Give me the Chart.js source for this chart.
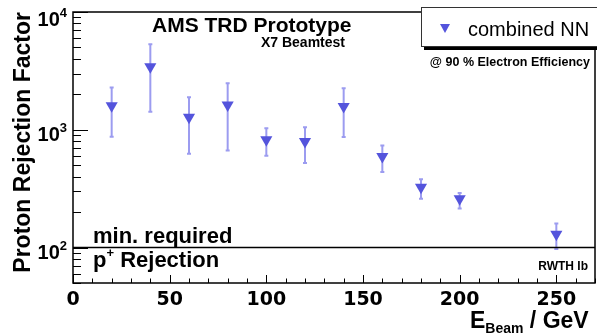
<!DOCTYPE html>
<html>
<head>
<meta charset="utf-8">
<script src="https://cdn.jsdelivr.net/npm/chart.js@4"></script>
<style>
  body { margin: 0; background: #fff; }
  canvas { display: block; }
</style>
</head>
<body>
<canvas id="rej" width="597" height="335"></canvas>
<script>
// beam energies (GeV) and proton rejection factor with error bounds
const energies = [20, 40, 60, 80, 100, 120, 140, 160, 180, 200, 250];
const rejection = [1600, 3430, 1280, 1620, 823, 796, 1575, 594, 325, 260, 130];
const rejHigh = [2280, 5330, 1890, 2480, 1030, 1050, 2250, 737, 380, 290, 160];
const rejLow = [873, 1420, 627, 668, 603, 523, 867, 439, 260, 215, 97];
const xTicks = [0, 50, 100, 150, 200, 250];
const yDecades = [2, 3, 4];
const minRequired = 100;

const markerColor = '#5454dc';
const barColor = '#9c9cf0';
const boldFont = '"Liberation Sans", Arial, sans-serif';

function supText(ctx, base, sup, xRight, y, size) {
  ctx.font = 'bold ' + size + 'px ' + boldFont;
  const wb = ctx.measureText(base).width;
  ctx.font = 'bold ' + Math.round(size * 0.65) + 'px ' + boldFont;
  const ws = ctx.measureText(sup).width;
  ctx.textAlign = 'left';
  ctx.fillText(sup, xRight - ws, y - size * 0.45);
  ctx.font = 'bold ' + size + 'px ' + boldFont;
  ctx.fillText(base, xRight - ws - wb, y);
}

const rootStyle = {
  id: 'rootStyle',
  beforeDatasetsDraw(chart) {
    const { ctx, scales: { x, y } } = chart;
    ctx.save();
    ctx.strokeStyle = barColor;
    ctx.lineWidth = 2;
    energies.forEach((e, i) => {
      const px = x.getPixelForValue(e);
      const top = y.getPixelForValue(rejHigh[i]);
      const bot = y.getPixelForValue(rejLow[i]);
      ctx.beginPath();
      ctx.moveTo(px, top); ctx.lineTo(px, bot);
      ctx.moveTo(px - 2, top); ctx.lineTo(px + 2, top);
      ctx.moveTo(px - 2, bot); ctx.lineTo(px + 2, bot);
      ctx.stroke();
    });
    ctx.restore();
  },
  afterDraw(chart) {
    const { ctx, chartArea: a, scales: { x, y } } = chart;
    ctx.save();
    ctx.fillStyle = '#000';
    ctx.strokeStyle = '#000';

    // frame
    ctx.lineWidth = 1.5;
    ctx.strokeRect(a.left, a.top, a.right - a.left, a.bottom - a.top);

    // min. required line
    const yMin = y.getPixelForValue(minRequired);
    ctx.lineWidth = 1.5;
    ctx.beginPath();
    ctx.moveTo(a.left, yMin); ctx.lineTo(a.right, yMin);
    ctx.stroke();

    // x ticks (inside)
    ctx.lineWidth = 1;
    ctx.beginPath();
    for (let v = 0; v <= x.max; v += 10) {
      const px = Math.round(x.getPixelForValue(v)) + 0.5;
      const len = v % 50 === 0 ? 8 : 4.5;
      ctx.moveTo(px, a.bottom); ctx.lineTo(px, a.bottom - len);
    }
    // y ticks (log, inside)
    for (let d = 1; d <= 4; d++) {
      for (let m = 1; m <= 9; m++) {
        const v = m * Math.pow(10, d);
        if (v < y.min || v > y.max) continue;
        const py = Math.round(y.getPixelForValue(v)) + 0.5;
        const len = m === 1 ? 15 : 8;
        ctx.moveTo(a.left, py); ctx.lineTo(a.left + len, py);
      }
    }
    ctx.stroke();

    // x labels
    ctx.font = 'bold 19px "DejaVu Sans", sans-serif';
    ctx.textAlign = 'center';
    ctx.textBaseline = 'alphabetic';
    xTicks.forEach(v => ctx.fillText(String(v), x.getPixelForValue(v), 305));

    // y labels
    yDecades.forEach(d => {
      const py = y.getPixelForValue(Math.pow(10, d)) + (d === 4 ? 14 : 11);
      supText(ctx, '10', String(d), a.left - 6, py, 20);
    });

    // axis titles
    ctx.font = 'bold 23px ' + boldFont;
    ctx.textAlign = 'left';
    let tx = 470;
    ctx.fillText('E', tx, 328);
    tx += ctx.measureText('E').width;
    ctx.font = 'bold 14px ' + boldFont;
    ctx.fillText('Beam', tx, 333);
    tx += ctx.measureText('Beam').width;
    ctx.font = 'bold 23px ' + boldFont;
    ctx.fillText(' / GeV', tx, 328);

    ctx.save();
    ctx.translate(30, a.top);
    ctx.rotate(-Math.PI / 2);
    ctx.textAlign = 'right';
    ctx.fillText('Proton Rejection Factor', 0, 0);
    ctx.restore();

    // annotations
    ctx.textAlign = 'left';
    ctx.font = 'bold 22px ' + boldFont;
    ctx.fillText('min. required', 93, 243);
    ctx.fillText('p', 93, 266.5);
    const pw = ctx.measureText('p').width;
    ctx.font = 'bold 13px ' + boldFont;
    ctx.fillText('+', 93 + pw, 257);
    const plw = ctx.measureText('+').width;
    ctx.font = 'bold 22px ' + boldFont;
    ctx.fillText(' Rejection', 93 + pw + plw, 266.5);

    ctx.font = 'bold 21px ' + boldFont;
    ctx.fillText('AMS TRD Prototype', 152, 31.5);
    ctx.font = 'bold 14px ' + boldFont;
    ctx.textAlign = 'right';
    ctx.fillText('X7 Beamtest', 345, 47);
    ctx.font = 'bold 12.5px ' + boldFont;
    ctx.fillText('@ 90 % Electron Efficiency', 590, 66);
    ctx.font = 'bold 12px ' + boldFont;
    ctx.fillText('RWTH Ib', 588, 270);

    // legend box with shadow
    ctx.fillStyle = '#000';
    ctx.fillRect(424, 46.5, 180, 3.5);
    ctx.fillStyle = '#fff';
    ctx.fillRect(421, 7.5, 180, 39);
    ctx.strokeStyle = '#333';
    ctx.lineWidth = 1;
    ctx.strokeRect(421.5, 7.5, 180, 39);
    ctx.fillStyle = markerColor;
    ctx.beginPath();
    ctx.moveTo(440, 24); ctx.lineTo(450, 24); ctx.lineTo(445, 33);
    ctx.closePath();
    ctx.fill();
    ctx.fillStyle = '#000';
    ctx.textAlign = 'left';
    ctx.font = '20px ' + boldFont;
    ctx.fillText('combined NN', 468, 36);

    ctx.restore();
  }
};

new Chart(document.getElementById('rej').getContext('2d'), {
  type: 'scatter',
  data: {
    datasets: [{
      label: 'combined NN',
      data: energies.map((e, i) => ({ x: e, y: rejection[i] })),
      pointStyle: 'triangle',
      rotation: 180,
      radius: 7,
      hoverRadius: 7,
      backgroundColor: markerColor,
      borderColor: markerColor,
      borderWidth: 0
    }]
  },
  options: {
    responsive: false,
    devicePixelRatio: 1,
    animation: false,
    layout: { autoPadding: false, padding: { top: 12, right: 2, left: 0, bottom: 0 } },
    plugins: { legend: { display: false }, tooltip: { enabled: false } },
    scales: {
      x: {
        type: 'linear', min: 0, max: 270,
        grid: { display: false }, border: { display: false },
        ticks: { display: false },
        afterFit(s) { s.height = 52; }
      },
      y: {
        type: 'logarithmic', min: 50, max: 10000,
        grid: { display: false }, border: { display: false },
        ticks: { display: false },
        afterFit(s) { s.width = 73; }
      }
    }
  },
  plugins: [rootStyle]
});
</script>
</body>
</html>
